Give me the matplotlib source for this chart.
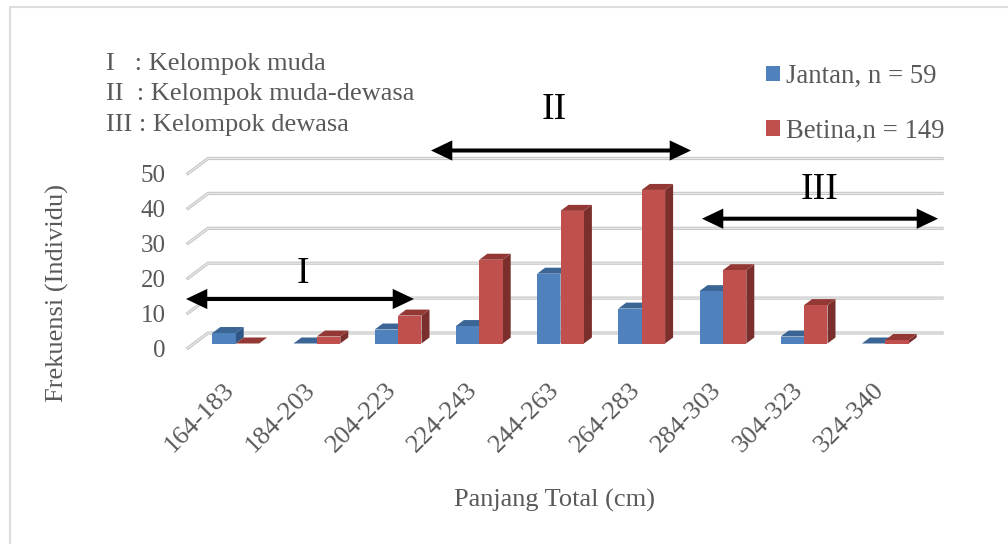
import matplotlib
matplotlib.use('Agg')
import matplotlib.pyplot as plt
from matplotlib.patches import Patch, Polygon
from matplotlib.lines import Line2D
from matplotlib.transforms import ScaledTranslation

plt.rcParams['font.family'] = ['Liberation Serif', 'DejaVu Serif']

categories = ['164-183', '184-203', '204-223', '224-243', '244-263',
              '264-283', '284-303', '304-323', '324-340']
jantan = [3, 0, 4, 5, 20, 10, 15, 2, 0]
betina = [0, 2, 8, 24, 38, 44, 21, 11, 1]
y_ticks = [0, 10, 20, 30, 40, 50]
groups = ['I   : Kelompok muda', 'II  : Kelompok muda-dewasa', 'III : Kelompok dewasa']

W, H = 1008, 544
txt_grey = '#595959'

# helper: picture pixels to figure fraction
def fx(px):
    return px / W
def fy(py):
    return 1 - py / H

fig = plt.figure(figsize=(W / 100, H / 100), dpi=100)
ax = fig.add_axes([fx(188), fy(343.5), (942 - 188) / W, (343.5 - 169) / H])

# 81.2 px between categories, 3.49 px per unit
px_x = 1 / 81.2
px_y = 1 / 3.49
ax.set_xlim(-47.7 * px_x, 8 + 56.7 * px_x)
ax.set_ylim(0, 50)
for s in ax.spines.values():
    s.set_visible(False)
ax.patch.set_alpha(0)

# gridlines, with the 3d floor offset
for v in y_ticks:
    xs = [ax.get_xlim()[0], ax.get_xlim()[0] + 20 * px_x, ax.get_xlim()[1]]
    ys = [v - 4.5 * px_y, v + 10.5 * px_y, v + 10.5 * px_y]
    ax.plot(xs, ys, color='#c6c6c6', lw=2.3, clip_on=False, zorder=1, solid_joinstyle='miter')
    ax.plot(xs, ys, color='#ebebeb', lw=0.8, clip_on=False, zorder=1.1, solid_joinstyle='miter')

bar_w = 23.4 * px_x
depth_x = 8 * px_x
depth_y = 6 * px_y

def bar3d(x0, val, front, top, side, z):
    x1 = x0 + bar_w
    ax.add_patch(Polygon([(x1, 0), (x1 + depth_x, depth_y), (x1 + depth_x, val + depth_y), (x1, val)],
                         fc=side, ec='none', clip_on=False, zorder=z))
    ax.add_patch(Polygon([(x0, val), (x0 + depth_x, val + depth_y), (x1 + depth_x, val + depth_y), (x1, val)],
                         fc=top, ec='none', clip_on=False, zorder=z))
    ax.bar(x0, val, width=bar_w, align='edge', color=front, clip_on=False, zorder=z + 0.1)

for i in range(len(categories)):
    bar3d(i - bar_w, jantan[i], '#4f81bd', '#3a6595', '#2f5785', 2 + i * 0.5)
    bar3d(i, betina[i], '#c0504d', '#933835', '#7a2f2d', 2.2 + i * 0.5)

# tick labels
ax.set_yticks(y_ticks)
ax.set_xticks(range(len(categories)))
ax.set_xticklabels(categories, rotation=45, ha='right', va='center', rotation_mode='anchor')
ax.tick_params(axis='both', length=0, labelcolor=txt_grey)
ax.tick_params(axis='y', pad=16, labelsize=18)
ax.tick_params(axis='x', pad=31, labelsize=19)
y_off = ScaledTranslation(0, -5 / 100, fig.dpi_scale_trans)
for lab in ax.get_yticklabels():
    lab.set_transform(lab.get_transform() + y_off)
x_off = ScaledTranslation(-5 / 100, 0, fig.dpi_scale_trans)
for lab in ax.get_xticklabels():
    lab.set_transform(lab.get_transform() + x_off)

# axis titles
fig.text(fx(554), fy(507), 'Panjang Total (cm)', ha='center', va='baseline', fontsize=19, color=txt_grey)
fig.text(fx(57), fy(293), 'Frekuensi (Individu)', ha='center', va='center', rotation=90, fontsize=19, color=txt_grey)

# group description
for label, base in zip(groups, [70, 100, 131]):
    fig.text(fx(106), fy(base), label, ha='left', va='baseline', fontsize=19, color=txt_grey)

# legend
handles = [Patch(fc='#4f81bd', ec='none'), Patch(fc='#c0504d', ec='none')]
fig.legend(handles, ['Jantan, n = 59', 'Betina,n = 149'], loc='upper left',
           bbox_to_anchor=(fx(742), fy(40)), frameon=False, fontsize=19.3,
           handlelength=0.5, handleheight=0.5, handletextpad=0.25, labelspacing=1.1,
           labelcolor=txt_grey, borderpad=0.4)

# group arrows and their numerals
for x0, x1, y in [(186, 414, 299), (431, 691, 150.5), (702, 938, 218.7)]:
    ax.annotate('', xy=(fx(x1), fy(y)), xytext=(fx(x0), fy(y)),
                xycoords='figure fraction', textcoords='figure fraction', zorder=20,
                arrowprops=dict(arrowstyle='<|-|>,head_length=1.05,head_width=0.5', mutation_scale=10,
                                lw=2.9, color='black', shrinkA=0, shrinkB=0,
                                joinstyle='miter', capstyle='butt'))
for label, x, y in [('I', 303, 283), ('II', 554, 119), ('III', 820, 199)]:
    fig.text(fx(x), fy(y), label, ha='center', va='baseline', fontsize=27, color='black', zorder=21)

# outer frame of the chart, left and top only
fig.add_artist(Line2D([fx(10), fx(10), fx(1008)], [fy(544), fy(6.5), fy(6.5)],
                      color='#dddddd', lw=1.5, solid_joinstyle='miter'))

fig.savefig('out.png', dpi=100)
